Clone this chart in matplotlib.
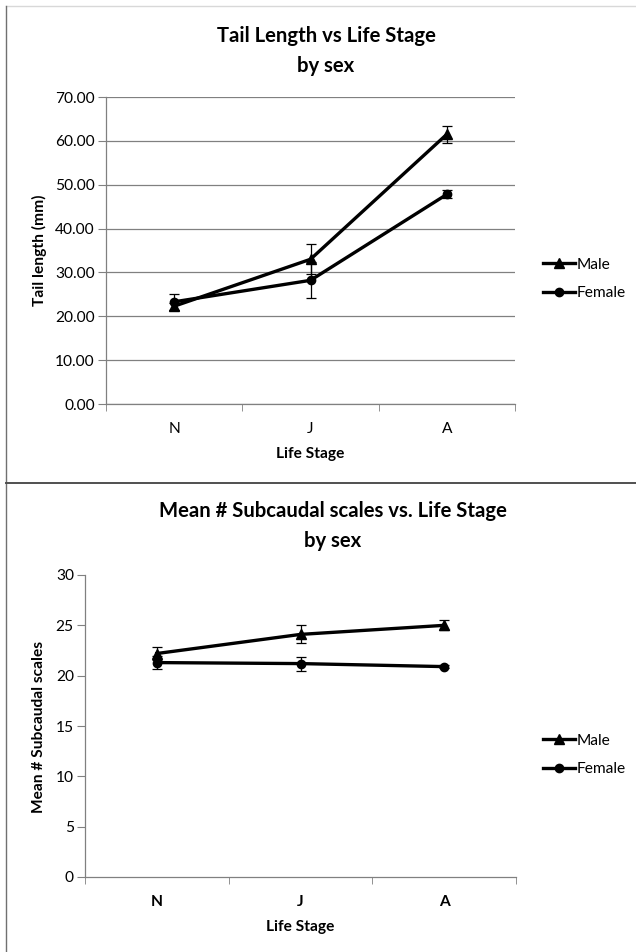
import matplotlib
matplotlib.use('Agg')
import matplotlib.pyplot as plt
from matplotlib.lines import Line2D

stages = ['N', 'J', 'A']

tail_male = [22.3, 33.0, 61.5]
tail_male_err = [0.8, 3.4, 2.0]
tail_female = [23.3, 28.2, 47.8]
tail_female_err = [1.8, 4.1, 0.9]

scales_male = [22.2, 24.1, 25.0]
scales_male_err = [0.6, 0.9, 0.5]
scales_female = [21.3, 21.2, 20.9]
scales_female_err = [0.65, 0.7, 0.15]

W, H = 636, 952
FS = 11.2      # axis text size
TS = 14.6      # title size
plt.rcParams['font.family'] = ['Lato', 'DejaVu Sans']
fig = plt.figure(figsize=(W / 100, H / 100), dpi=100)


def box(l, t, r, b):
    return [l / W, 1 - b / H, (r - l) / W, (b - t) / H]


def draw_panel(ax, male, male_err, female, female_err, ylim, yticks, fmt, grid, xweight):
    x = range(len(stages))
    ax.errorbar(x, male, yerr=male_err, color='black', lw=2.4, marker='^', ms=7,
                ecolor='black', elinewidth=0.9, capsize=3.5, capthick=0.9)
    ax.errorbar(x, female, yerr=female_err, color='black', lw=2.4, marker='o', ms=6,
                ecolor='black', elinewidth=0.9, capsize=3.5, capthick=0.9)
    ax.set_xlim(-0.5, 2.5)
    ax.set_ylim(*ylim)
    ax.set_yticks(yticks)
    ax.set_yticklabels([fmt.format(v) for v in yticks], fontsize=FS)
    ax.set_xticks(list(x))
    ax.set_xticklabels(stages, fontsize=FS, fontweight=xweight)
    ax.set_xticks([-0.5, 0.5, 1.5, 2.5], minor=True)
    ax.tick_params(axis='x', which='major', length=0, pad=13)
    ax.tick_params(axis='x', which='minor', length=5, direction='out', color='#808080')
    ax.tick_params(axis='y', length=6, direction='out', color='#808080', pad=2)
    for s in ['top', 'right']:
        ax.spines[s].set_visible(False)
    for s in ['left', 'bottom']:
        ax.spines[s].set_color('#808080')
        ax.spines[s].set_linewidth(0.9)
    if grid:
        ax.yaxis.grid(True, color='#808080', lw=0.9)
        ax.set_axisbelow(True)
    ax.set_xlabel('Life Stage', fontsize=FS, fontweight='bold', labelpad=8)


# top chart
ax1 = fig.add_axes(box(106, 97, 515, 404))
draw_panel(ax1, tail_male, tail_male_err, tail_female, tail_female_err,
           (0, 70), [0, 10, 20, 30, 40, 50, 60, 70], '{:.2f}', True, 'normal')
fig.text(39 / W, 1 - 250 / H, 'Tail length (mm)', rotation=90, fontsize=FS,
         fontweight='bold', ha='center', va='center')
fig.text(326 / W, 1 - 36 / H, 'Tail Length vs Life Stage', fontsize=TS,
         fontweight='bold', ha='center', va='center')
fig.text(326 / W, 1 - 66 / H, 'by sex', fontsize=TS,
         fontweight='bold', ha='center', va='center')

# bottom chart
ax2 = fig.add_axes(box(85, 575, 516, 877))
draw_panel(ax2, scales_male, scales_male_err, scales_female, scales_female_err,
           (0, 30), [0, 5, 10, 15, 20, 25, 30], '{:d}', False, 'bold')
fig.text(39 / W, 1 - 727 / H, 'Mean # Subcaudal scales', rotation=90, fontsize=FS,
         fontweight='bold', ha='center', va='center')
fig.text(333 / W, 1 - 511 / H, 'Mean # Subcaudal scales vs. Life Stage', fontsize=TS,
         fontweight='bold', ha='center', va='center')
fig.text(333 / W, 1 - 541 / H, 'by sex', fontsize=TS,
         fontweight='bold', ha='center', va='center')

# legends (plain line + marker handles, no error bars)
handles = [Line2D([], [], color='black', lw=2.4, marker='^', ms=7),
           Line2D([], [], color='black', lw=2.4, marker='o', ms=6)]
for yc in [279, 755]:
    fig.legend(handles, ['Male', 'Female'], loc='center left',
               bbox_to_anchor=(535 / W, 1 - yc / H), frameon=False, fontsize=FS,
               handlelength=2.1, handletextpad=0.05, labelspacing=0.95, borderpad=0)

# chart borders
fig.add_artist(Line2D([6 / W, 1], [1 - 6 / H, 1 - 6 / H], color='#d8d8d8', lw=1))
fig.add_artist(Line2D([6 / W, 6 / W], [0, 1 - 6 / H], color='#707070', lw=1))
fig.add_artist(Line2D([6 / W, 1], [1 - 483 / H, 1 - 483 / H], color='#505050', lw=1.4))

fig.savefig('out.png', dpi=100)
